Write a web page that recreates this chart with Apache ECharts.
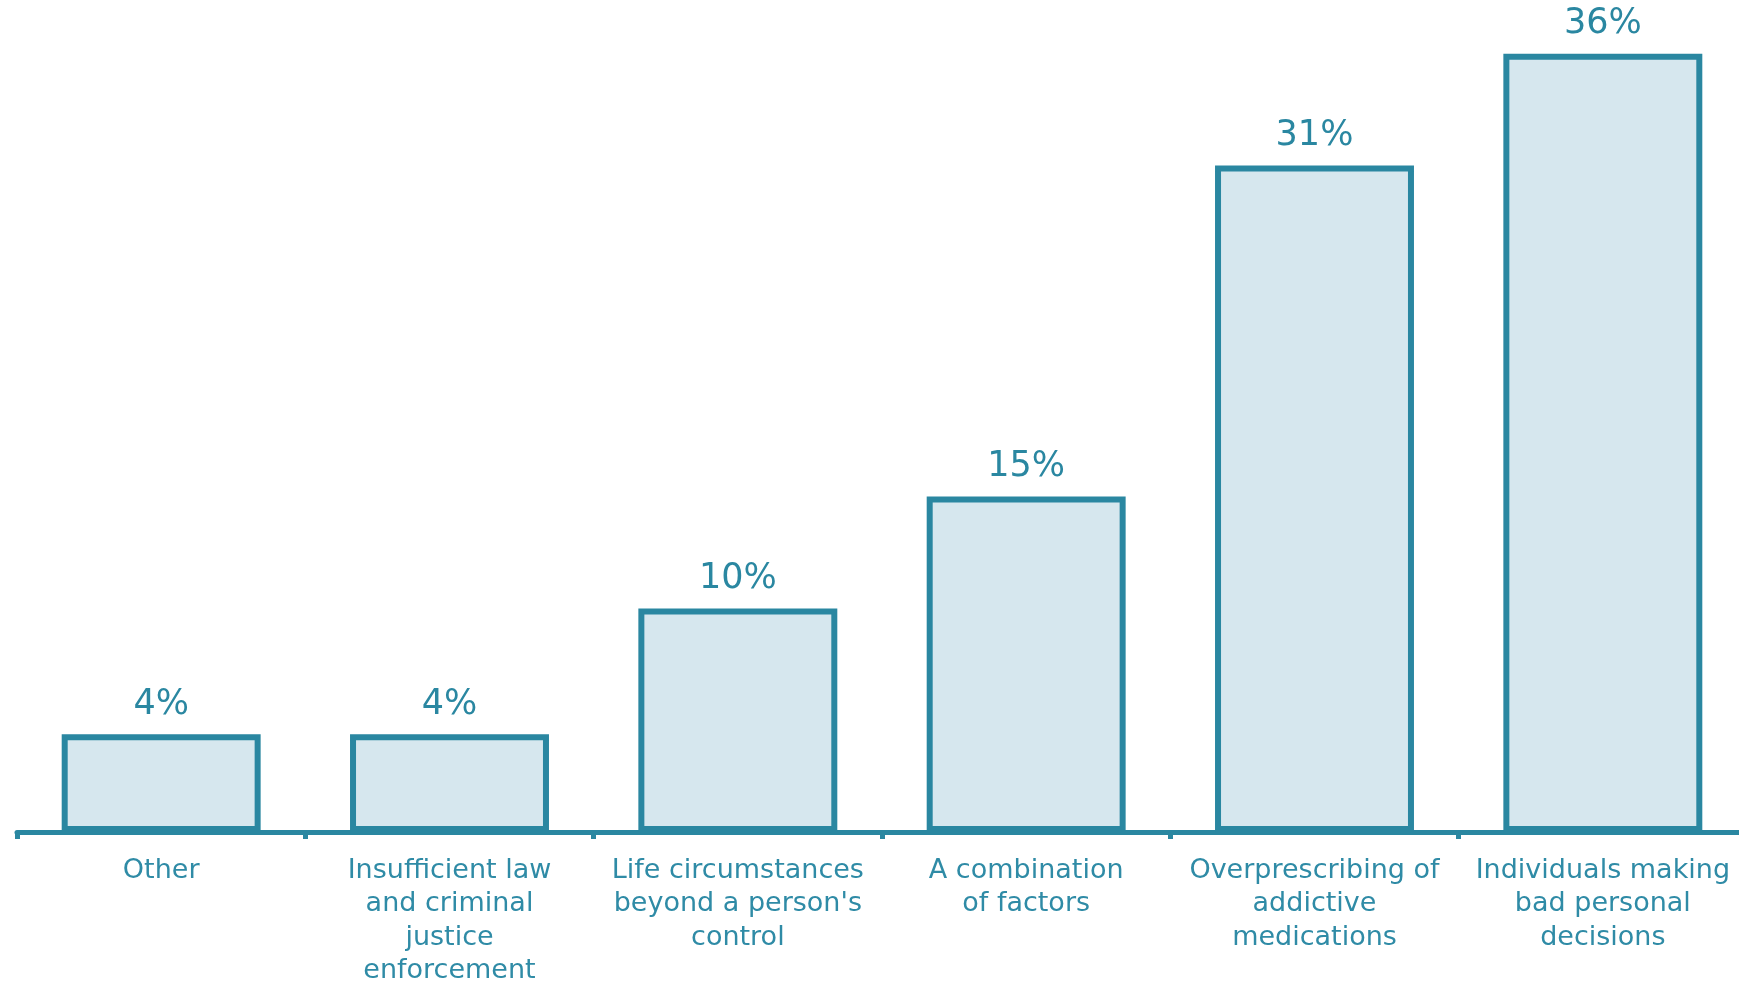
<!DOCTYPE html>
<html>
<head>
<meta charset="utf-8">
<script src="https://cdn.jsdelivr.net/npm/echarts@6/dist/echarts.min.js"></script>
<style>
html,body{margin:0;padding:0;background:#fff;overflow:hidden;}
#chart{width:1739px;height:984px;}
</style>
</head>
<body>
<div id="chart"></div>
<script>
const categories = [
  "Other",
  "Insufficient law\nand criminal\njustice\nenforcement",
  "Life circumstances\nbeyond a person's\ncontrol",
  "A combination\nof factors",
  "Overprescribing of\naddictive\nmedications",
  "Individuals making\nbad personal\ndecisions"
];
const values = [4.55, 4.55, 10.4, 15.6, 31.0, 36.2];
const valueLabels = ["4%", "4%", "10%", "15%", "31%", "36%"];

const teal = '#2a87a1';
const chart = echarts.init(document.getElementById('chart'));
chart.setOption({
  backgroundColor: '#ffffff',
  animation: false,
  grid: { left: 17, right: -8, top: 15, bottom: 152, containLabel: false, outerBoundsMode: 'none' },
  xAxis: {
    type: 'category',
    data: categories,
    axisLine: { lineStyle: { color: teal, width: 5 } },
    axisTick: { show: true, length: 7, lineStyle: { color: teal, width: 5 } },
    axisLabel: {
      interval: 0,
      color: '#2f8ba6',
      fontFamily: 'DejaVu Sans',
      fontSize: 27,
      lineHeight: 33.5,
      margin: 22,
      align: 'center'
    }
  },
  yAxis: {
    type: 'value',
    min: 0,
    max: 38,
    show: false,
    splitLine: { show: false }
  },
  series: [{
    type: 'bar',
    data: values,
    barWidth: '69%',
    itemStyle: { color: '#d6e7ee', borderColor: teal, borderWidth: 6 },
    label: {
      show: true,
      position: 'top',
      distance: 12,
      color: teal,
      fontFamily: 'DejaVu Sans',
      fontSize: 35,
      formatter: p => valueLabels[p.dataIndex]
    }
  }]
});
</script>
</body>
</html>
